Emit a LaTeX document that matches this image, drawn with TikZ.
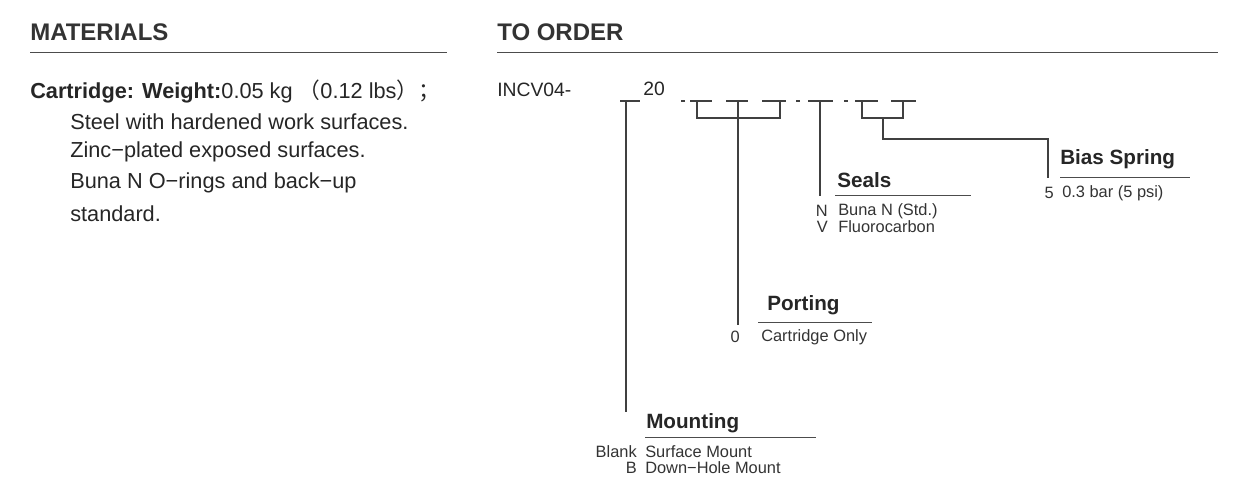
\documentclass[tikz,border=0pt]{standalone}
\usepackage{fontspec}
\setmainfont{Liberation Sans}
\newfontfamily\cjk{Noto Sans CJK SC}
\begin{document}
\begin{tikzpicture}[x=0.75pt,y=-0.75pt,
  head/.style={anchor=west,inner sep=0pt,font=\fontsize{18}{20}\selectfont\bfseries,text=black!80},
  body/.style={anchor=west,inner sep=0pt,font=\fontsize{16.3}{18}\selectfont,text=black!85},
  code/.style={anchor=west,inner sep=0pt,font=\fontsize{14.5}{16}\selectfont,text=black!85},
  ttl/.style={anchor=west,inner sep=0pt,font=\fontsize{15.5}{17}\selectfont\bfseries,text=black!85},
  opt/.style={anchor=west,inner sep=0pt,font=\fontsize{12.3}{14}\selectfont,text=black!80},
  optk/.style={anchor=east,inner sep=0pt,font=\fontsize{12.3}{14}\selectfont,text=black!80},
  ln/.style={draw=black!75,line width=0.8pt},
  rule/.style={draw=black!70,line width=0.7pt}]
\useasboundingbox (0,0) rectangle (1240,480);
\node[head] (mat) at (30,32) {MATERIALS};
\node[head] (ord) at (497,32) {TO ORDER};
\draw[rule] (30,52) -- (447,52);
\draw[rule] (497,52) -- (1218,52);
\node[body] (c1) at (30,91) {\textbf{Cartridge: Weight:}0.05 kg {\cjk （}0.12 lbs{\cjk ）；}};
\node[body] (c2) at (70,122) {Steel with hardened work surfaces.};
\node[body] (c3) at (70,152) {Zinc−plated exposed surfaces.};
\node[body] (c4) at (70,183) {Buna N O−rings and back−up};
\node[body] (c5) at (70,214) {standard.};
\node[code] (code) at (497,90) {INCV04-};
\node[code] (twenty) at (643,89) {20};
% blanks
\foreach \a/\b in {620/640,690/712,726/748,762/786,808/833,855/878,891/916}
  \draw[ln] (\a,101) -- (\b,101);
\foreach \a in {681,796,844} \draw[ln] (\a,101) -- (\a+4,101);
% mounting
\draw[ln] (626,101) -- (626,412);
% porting
\draw[ln] (697,101) -- (697,118) -- (780,118) -- (780,101);
\draw[ln] (738,101) -- (738,325);
% seals
\draw[ln] (820,101) -- (820,196);
% bias
\draw[ln] (862,101) -- (862,118) -- (903,118) -- (903,101);
\draw[ln] (883,118) -- (883,139) -- (1048,139) -- (1048,178);
% titles
\node[ttl] (seals) at (837,180) {Seals};
\draw[rule] (835,195) -- (971,195);
\node[optk] at (828,211) {N};
\node[opt] at (838,211) {Buna N (Std.)};
\node[optk] at (828,227) {V};
\node[opt] at (838,227) {Fluorocarbon};
\node[ttl] (bias) at (1060,159) {Bias Spring};
\draw[rule] (1060,177) -- (1190,177);
\node[optk] at (1054,193) {5};
\node[opt] at (1062,193) {0.3 bar (5 psi)};
\node[ttl] (port) at (767,305) {Porting};
\draw[rule] (758,322) -- (872,322);
\node[optk] at (740,337) {0};
\node[opt] at (761,337) {Cartridge Only};
\node[ttl] (mount) at (646,423) {Mounting};
\draw[rule] (645,437) -- (816,437);
\node[optk] at (637,452) {Blank};
\node[opt] at (645,452) {Surface Mount};
\node[optk] at (637,468) {B};
\node[opt] at (645,468) {Down−Hole Mount};
\end{tikzpicture}
\end{document}
